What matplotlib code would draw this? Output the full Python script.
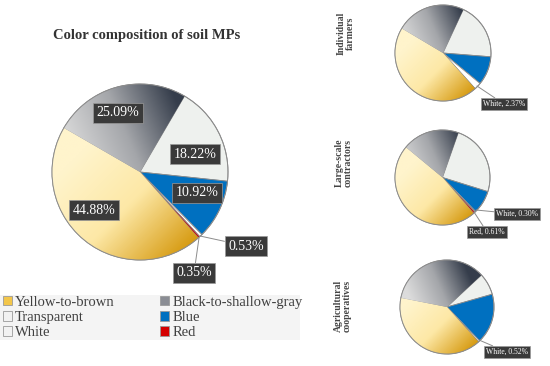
"""Colour composition of soil MPs: one main pie plus three small pies by farm type."""
import numpy as np
import matplotlib
matplotlib.use("Agg")
import matplotlib.pyplot as plt
from matplotlib.colors import LinearSegmentedColormap
from matplotlib.patches import Patch, Rectangle

# ---------- data ----------
categories = ["Yellow-to-brown", "Black-to-shallow-gray", "Transparent",
              "Blue", "White", "Red"]
overall = [44.88, 25.09, 18.22, 10.92, 0.53, 0.35]
individual = [45.23, 23.40, 19.30, 9.70, 2.37, 0.00]
large_scale = [47.40, 19.40, 24.40, 7.90, 0.30, 0.61]
cooperatives = [39.78, 35.00, 7.50, 17.20, 0.52, 0.00]
group_names = ["Individual\nfarmers", "Large-scale\ncontractors",
               "Agricultural\ncooperatives"]

W, H = 550, 366
SERIF = ["Liberation Serif", "DejaVu Serif"]
plt.rcParams["font.family"] = SERIF

base_colors = ["#f6d77a", "#8a8d94", "#eef1ee", "#0070c0", "#ffffff", "#d40000"]
edge = "#8c8c8c"
yellow_cmap = LinearSegmentedColormap.from_list("y", ["#fff4cc", "#fde8a6", "#d79c14"])
gray_cmap = LinearSegmentedColormap.from_list("g", ["#dcdcdc", "#a4a6aa", "#353d4b"])


def shade(ax, wedge, cmap, cx, cy, r, p0, p1):
    """Fill a wedge with a linear gradient running from p0 to p1 (in radius units)."""
    n = 120
    xs = np.linspace(-1, 1, n)
    gx, gy = np.meshgrid(xs, xs[::-1])
    d = np.array(p1) - np.array(p0)
    t = ((gx - p0[0]) * d[0] + (gy - p0[1]) * d[1]) / (d @ d)
    im = ax.imshow(np.clip(t, 0, 1), cmap=cmap, vmin=0, vmax=1,
                   extent=(cx - r, cx + r, cy - r, cy + r),
                   interpolation="bilinear", zorder=1.5)
    im.set_clip_path(wedge)


def draw_pie(ax, values, cx, cy, r, start):
    wedges, _ = ax.pie(values, colors=base_colors, startangle=start,
                       counterclock=False, center=(cx, H - cy), radius=r,
                       wedgeprops=dict(edgecolor=edge, linewidth=0.6))
    shade(ax, wedges[0], yellow_cmap, cx, H - cy, r, (-0.6, 0.3), (0.55, -0.85))
    shade(ax, wedges[1], gray_cmap, cx, H - cy, r, (-0.8, 0.2), (0.45, 0.75))
    ax.add_patch(plt.Circle((cx, H - cy), r, fill=False, edgecolor=edge,
                            linewidth=0.7, zorder=3))
    return wedges


def tag(ax, text, x, y, size, xy=None):
    box = dict(boxstyle="square,pad=0.25", facecolor="#3a3a3a", edgecolor="#9a9a9a",
               linewidth=0.5)
    if xy is None:
        ax.text(x, H - y, text, color="white", fontsize=size, ha="center",
                va="center", bbox=box, zorder=5)
    else:
        ax.annotate(text, xy=(xy[0], H - xy[1]), xytext=(x, H - y), color="white",
                    fontsize=size, ha="center", va="center", bbox=box, zorder=5,
                    arrowprops=dict(arrowstyle="-", color="#8c8c8c", lw=0.7,
                                    shrinkA=0, shrinkB=0))


fig = plt.figure(figsize=(W / 100, H / 100), dpi=100)
ax = fig.add_axes([0, 0, 1, 1])

# ---------- main pie ----------
draw_pie(ax, overall, 140, 172, 88, -48.5)
ax.text(147, H - 35, "Color composition of soil MPs", fontsize=10.5,
        fontweight="bold", color="#333333", ha="center", va="center")
main_pos = [(94, 210), (118, 113), (195, 154), (197, 193)]
for (x, y), v in zip(main_pos, overall[:4]):
    tag(ax, f"{v:.2f}%", x, y, 10)
tag(ax, f"{overall[4]:.2f}%", 246, 246, 10, xy=(200, 236))
tag(ax, f"{overall[5]:.2f}%", 194, 273, 10, xy=(199, 238))

# ---------- small pies ----------
small = [
    (individual, 443, 53, 48, -48, [("White", 4, 504, 104, (477, 86))]),
    (large_scale, 442.5, 177.5, 47.5, -49, [("White", 4, 517, 214, (476, 210)),
                                            ("Red", 5, 487, 232, (474, 212))]),
    (cooperatives, 447, 307, 47, -48, [("White", 4, 507, 352, (479, 340))]),
]
name_pos = [(346, 33), (344, 163), (343, 306)]
for (vals, cx, cy, r, start, labels), name, (nx, ny) in zip(small, group_names, name_pos):
    draw_pie(ax, vals, cx, cy, r, start)
    for cat, i, lx, ly, xy in labels:
        tag(ax, f"{cat}, {vals[i]:.2f}%", lx, ly, 5.5, xy=xy)
    ax.text(nx, H - ny, name, rotation=90, fontsize=7, fontweight="bold",
            color="#444444", ha="center", va="center", linespacing=1.0)

# ---------- legend ----------
ax.add_patch(Rectangle((0, H - 340), 300, 45, facecolor="#f4f4f4",
                       edgecolor="none", zorder=0))
order = [0, 2, 4, 1, 3, 5]
leg_colors = ["#f3c64a", "#8a8d94", "#f2f2f2", "#0070c0", "#f2f2f2", "#d40000"]
handles = [Patch(facecolor=leg_colors[i], edgecolor="#9a9a9a", linewidth=0.6,
                 label=categories[i]) for i in order]
leg = ax.legend(handles=handles, ncol=2, loc="upper left",
                bbox_to_anchor=(0.005, (H - 296) / H), bbox_transform=fig.transFigure,
                frameon=False, fontsize=10.5, handlelength=0.6, handleheight=0.6,
                handletextpad=0.25, columnspacing=3.1, labelspacing=0.14,
                borderaxespad=0, borderpad=0)
for t in leg.get_texts():
    t.set_color("#404040")

ax.set_xlim(0, W)
ax.set_ylim(0, H)
ax.set_aspect("equal")
ax.axis("off")
fig.savefig("out.png", dpi=100)
